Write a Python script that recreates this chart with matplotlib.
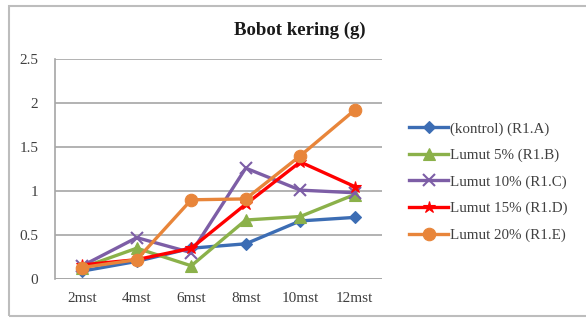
import matplotlib
matplotlib.use("Agg")
import matplotlib.pyplot as plt
from matplotlib.patches import Rectangle

categories = ["2mst", "4mst", "6mst", "8mst", "10mst", "12mst"]
series_names = [
    "(kontrol) (R1.A)",
    "Lumut 5% (R1.B)",
    "Lumut 10% (R1.C)",
    "Lumut 15% (R1.D)",
    "Lumut 20% (R1.E)",
]
kontrol = [0.09, 0.20, 0.35, 0.40, 0.66, 0.70]
lumut5 = [0.13, 0.35, 0.15, 0.67, 0.71, 0.96]
lumut10 = [0.15, 0.47, 0.30, 1.26, 1.01, 0.98]
lumut15 = [0.16, 0.22, 0.35, 0.85, 1.33, 1.05]
lumut20 = [0.13, 0.22, 0.90, 0.91, 1.40, 1.92]
yticks = [0, 0.5, 1, 1.5, 2, 2.5]
ytick_labels = ["0", "0.5", "1", "1.5", "2", "2.5"]

colors = ["#3C6DB4", "#8BB14A", "#7D5EA6", "#FF0000", "#E8853A"]
markers = ["D", "^", "x", "*", "o"]
msizes = [6, 8, 9, 9, 9]

plt.rcParams["font.family"] = ["Liberation Serif", "DejaVu Serif"]

fig = plt.figure(figsize=(5.86, 3.2), dpi=100)
fig.patches.append(Rectangle((9 / 586, 1 - 316 / 320), 1.0, (316 - 6) / 320,
                             transform=fig.transFigure, fill=False,
                             edgecolor="#BDBDBD", linewidth=1.5))

ax = fig.add_axes([55 / 586, 1 - 279 / 320, (382 - 55) / 586, (279 - 59) / 320])
x = list(range(len(categories)))
for vals, name, c, m, ms in zip([kontrol, lumut5, lumut10, lumut15, lumut20],
                                series_names, colors, markers, msizes):
    ax.plot(x, vals, color=c, marker=m, markersize=ms, linewidth=2.4,
            markeredgewidth=1.5 if m == "x" else 0.8, label=name)

ax.set_xlim(-0.5, len(categories) - 0.5)
ax.set_ylim(0, 2.5)
ax.set_yticks(yticks)
ax.set_yticklabels(ytick_labels)
ax.set_xticks(x)
ax.set_xticklabels(categories)
ax.yaxis.grid(True, color="#A6A6A6", linewidth=1.2)
ax.set_axisbelow(True)
for side in ["top", "right", "bottom"]:
    ax.spines[side].set_visible(False)
ax.spines["left"].set_color("#A6A6A6")
ax.spines["left"].set_linewidth(1.2)
ax.axhline(0, color="#A6A6A6", linewidth=1.2, zorder=0)
ax.tick_params(axis="both", length=0, labelsize=11, colors="#404040")
ax.tick_params(axis="x", pad=9)
ax.tick_params(axis="y", pad=12)

fig.text(300 / 586, 1 - 30 / 320, "Bobot kering (g)", ha="center", va="center",
         fontsize=13.5, fontweight="bold", color="#1A1A1A")

ax.legend(loc="upper left", bbox_to_anchor=(403 / 586, 1 - 116 / 320),
          bbox_transform=fig.transFigure, frameon=False, fontsize=10.8,
          handlelength=2.6, handletextpad=0.15, labelspacing=0.86,
          labelcolor="#404040", borderaxespad=0)

fig.savefig("out.png", dpi=100)
